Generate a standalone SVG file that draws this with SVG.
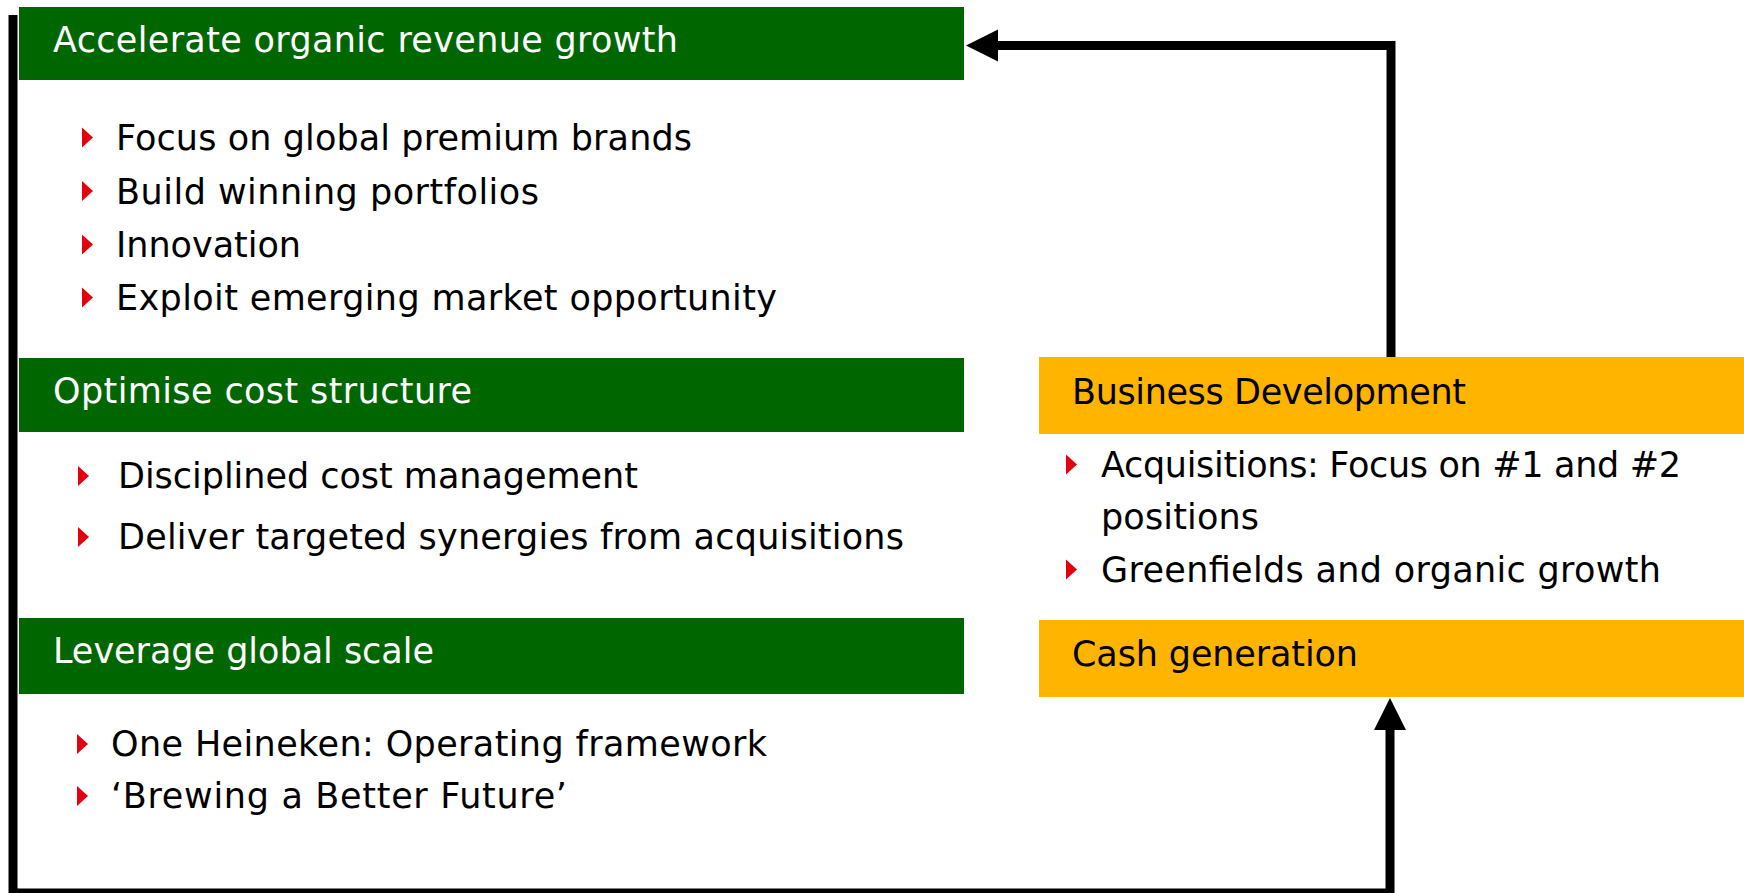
<svg xmlns="http://www.w3.org/2000/svg" xmlns:xlink="http://www.w3.org/1999/xlink" width="1744" height="893" viewBox="0 0 1744 893">
  <style>
    .green { fill: #006600; }
    .orange { fill: #FFB400; }
    .t { font-family: "DejaVu Sans", Verdana, sans-serif; font-size: 35px; }
    .wt { fill: #ffffff; }
    .bk { fill: #000000; }
    .bul { fill: #E3000F; }
    .conn { fill: none; stroke: #000000; stroke-width: 9; stroke-linejoin: miter; }
  </style>
  <defs>
    <marker id="arrow" markerUnits="userSpaceOnUse" markerWidth="32" markerHeight="32" refX="1" refY="16" orient="auto" overflow="visible">
      <path d="M0,0 L32,16 L0,32 z" fill="#000000"/>
    </marker>
    <path id="b" d="M0,-10 L11,0 L0,10 z"/>
  </defs>
  <rect width="1744" height="893" fill="#ffffff"/>

  <g id="connectors">
    <path class="conn" d="M13,15 V893 H1390 V729" marker-end="url(#arrow)"/>
    <path class="conn" d="M1391,357 V45.5 H997" marker-end="url(#arrow)"/>
  </g>

  <g id="revenue-growth">
    <rect class="green" x="19" y="7" width="945" height="73"/>
    <text class="t wt" x="53" y="52" textLength="625">Accelerate organic revenue growth</text>
    <use href="#b" class="bul" x="82" y="137.5"/>
    <text class="t bk" x="116" y="150" textLength="576">Focus on global premium brands</text>
    <use href="#b" class="bul" x="82" y="191"/>
    <text class="t bk" x="116" y="203.5" textLength="423">Build winning portfolios</text>
    <use href="#b" class="bul" x="82" y="244.5"/>
    <text class="t bk" x="116" y="257" textLength="185">Innovation</text>
    <use href="#b" class="bul" x="82" y="297.5"/>
    <text class="t bk" x="116" y="310" textLength="661">Exploit emerging market opportunity</text>
  </g>

  <g id="cost-structure">
    <rect class="green" x="19" y="358" width="945" height="74"/>
    <text class="t wt" x="53" y="403" textLength="419">Optimise cost structure</text>
    <use href="#b" class="bul" x="78" y="476"/>
    <text class="t bk" x="118" y="488" textLength="520">Disciplined cost management</text>
    <use href="#b" class="bul" x="78" y="537"/>
    <text class="t bk" x="118" y="549" textLength="786">Deliver targeted synergies from acquisitions</text>
  </g>

  <g id="global-scale">
    <rect class="green" x="19" y="618" width="945" height="76"/>
    <text class="t wt" x="53" y="663" textLength="381">Leverage global scale</text>
    <use href="#b" class="bul" x="77" y="744"/>
    <text class="t bk" x="111" y="756" textLength="656">One Heineken: Operating framework</text>
    <use href="#b" class="bul" x="77" y="796"/>
    <text class="t bk" x="111" y="808" textLength="456">‘Brewing a Better Future’</text>
  </g>

  <g id="business-development">
    <rect class="orange" x="1039" y="357" width="705" height="77"/>
    <text class="t bk" x="1072" y="404" textLength="394">Business Development</text>
    <use href="#b" class="bul" x="1066" y="464.5"/>
    <text class="t bk" x="1101" y="477" textLength="580">Acquisitions: Focus on #1 and #2</text>
    <text class="t bk" x="1101" y="529" textLength="158">positions</text>
    <use href="#b" class="bul" x="1066" y="569.5"/>
    <text class="t bk" x="1101" y="582" textLength="560">Greenfields and organic growth</text>
  </g>

  <g id="cash-generation">
    <rect class="orange" x="1039" y="620" width="705" height="77"/>
    <text class="t bk" x="1072" y="666" textLength="286">Cash generation</text>
  </g>
</svg>
